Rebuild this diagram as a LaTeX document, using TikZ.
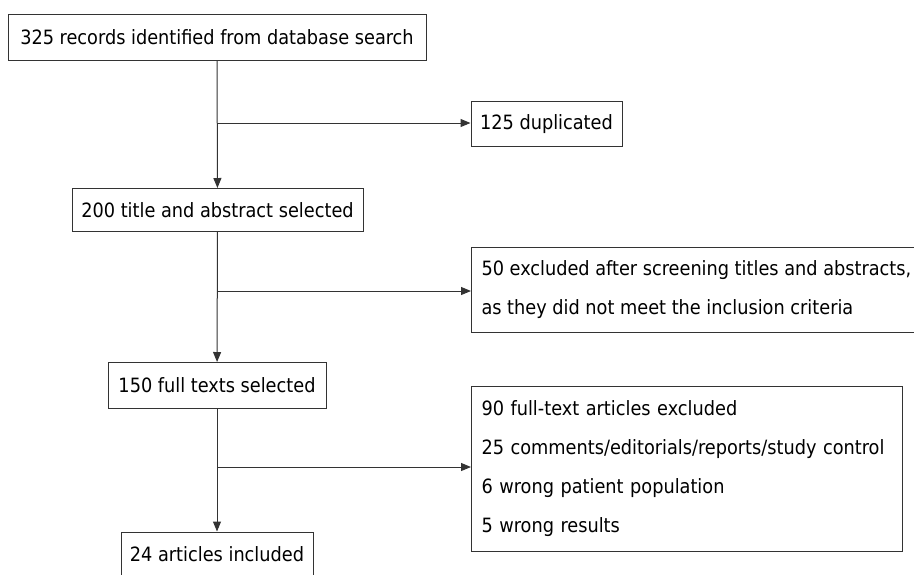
\documentclass[tikz,border=0pt]{standalone}
\usepackage{fontspec}
\setmainfont{DejaVu Sans Condensed}
\usetikzlibrary{arrows.meta}

\begin{document}
\begin{tikzpicture}[
    x=1pt, y=-1pt,
    box/.style={draw=black!80, line width=1pt, inner sep=0pt, align=center, font=\fontsize{19.7}{39}\selectfont},
    list/.style={draw=black!80, line width=1pt, inner sep=10pt, align=left, anchor=west, font=\fontsize{19.7}{39}\selectfont},
    arr/.style={-{Triangle[length=10pt,width=8pt]}, line width=1pt, draw=black!80}
]
\useasboundingbox (0,0) rectangle (914,574);
\clip (0,0) rectangle (914,574);

\node[box, minimum width=418, minimum height=46] (rec) at (217,37.5) {325 records identified from database search};
\node[box, minimum width=151, minimum height=45] (dup) at (546.5,124) {125 duplicated};
\node[box, minimum width=291, minimum height=43] (title) at (217.5,210) {200 title and abstract selected};
\node[list, minimum height=85] (excl) at (471,290) {50 excluded after screening titles and abstracts,\\as they did not meet the inclusion criteria};
\node[box, minimum width=218, minimum height=46] (full) at (217,385.5) {150 full texts selected};
\node[list, text width=411, minimum height=165] (fexcl) at (471,469) {90 full-text articles excluded\\25 comments/editorials/reports/study control\\6 wrong patient population\\5 wrong results};
\node[box, minimum width=192, minimum height=44] (incl) at (217,554) {24 articles included};

\coordinate (b1) at (217,123);
\coordinate (b2) at (217,291);
\coordinate (b3) at (217,467);

\draw[arr] (rec) -- (title);
\draw[arr] (title) -- (full);
\draw[arr] (full) -- (incl);
\draw[arr] (b1) -- (b1 -| dup.west);
\draw[arr] (b2) -- (b2 -| excl.west);
\draw[arr] (b3) -- (b3 -| fexcl.west);
\end{tikzpicture}
\end{document}
